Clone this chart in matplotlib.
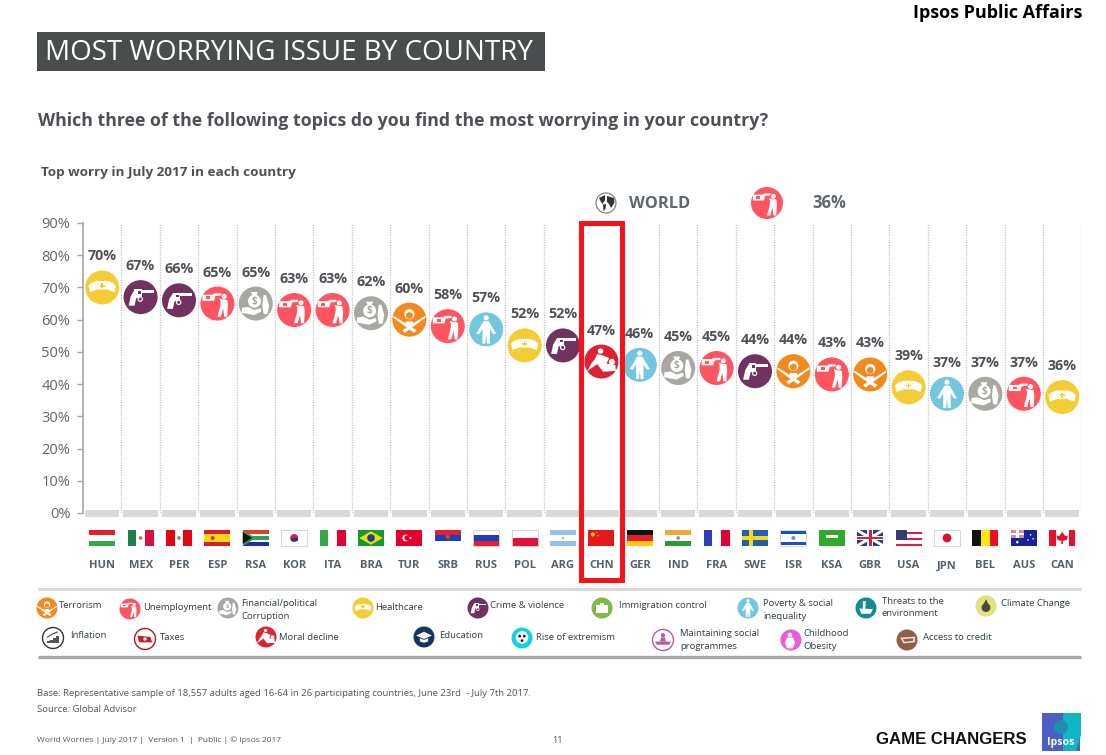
import matplotlib
matplotlib.use("Agg")
import matplotlib.pyplot as plt
from matplotlib.patches import Circle, Polygon, Rectangle
from matplotlib.transforms import Affine2D

plt.rcParams['font.family'] = ['Open Sans', 'DejaVu Sans']

countries = ["HUN", "MEX", "PER", "ESP", "RSA", "KOR", "ITA", "BRA", "TUR", "SRB", "RUS", "POL", "ARG",
             "CHN", "GER", "IND", "FRA", "SWE", "ISR", "KSA", "GBR", "USA", "JPN", "BEL", "AUS", "CAN"]
values = [70, 67, 66, 65, 65, 63, 63, 62, 60, 58, 57, 52, 52, 47, 46, 45, 45, 44, 44, 43, 43, 39, 37, 37, 37, 36]
top_worry = ["health", "crime", "crime", "jobs", "corrupt", "jobs", "jobs", "corrupt", "terror", "jobs", "poverty",
             "health", "crime", "moral", "poverty", "corrupt", "jobs", "crime", "terror", "jobs", "terror",
             "health", "poverty", "corrupt", "jobs", "health"]
y_ticks = [0, 10, 20, 30, 40, 50, 60, 70, 80, 90]
world_value = 36

WORRY_COLORS = {
    "terror": "#F28A1F", "jobs": "#FF5560", "corrupt": "#A7A8A2", "health": "#F4CD34", "crime": "#72325F",
    "immigration": "#7DBB45", "poverty": "#72C6DE", "environment": "#0F8C96", "climate": "#E3E07F",
    "inflation": "white", "taxes": "white", "moral": "#DD2232", "education": "#17335F", "extremism": "#12D3E0",
    "social": "white", "obesity": "#EE5BD6", "credit": "#8E5F48",
}
EDGE_COLORS = {"inflation": "#333333", "taxes": "#B3141F", "social": "#B45AA5"}

# legend: key, icon x, icon y, text x, text lines, first text y
legend_items = [
    ("terror", 47, 608, 59, ["Terrorism"], 605),
    ("jobs", 130, 609, 143, ["Unemployment"], 606),
    ("corrupt", 228, 608, 241, ["Financial/political", "Corruption"], 603),
    ("health", 363, 608, 375, ["Healthcare"], 606),
    ("crime", 478, 608, 490, ["Crime & violence"], 605),
    ("immigration", 602, 608, 619, ["Immigration control"], 605),
    ("poverty", 748, 608, 763, ["Poverty & social", "inequality"], 603),
    ("environment", 866, 608, 882, ["Threats to the", "environment"], 600),
    ("climate", 986, 606, 1001, ["Climate Change"], 602),
    ("inflation", 53, 638, 70, ["Inflation"], 635),
    ("taxes", 145, 639, 160, ["Taxes"], 636),
    ("moral", 266, 637, 279, ["Moral decline"], 637),
    ("education", 424, 637, 439, ["Education"], 635),
    ("extremism", 522, 638, 536, ["Rise of extremism"], 636),
    ("social", 663, 640, 680, ["Maintaining social", "programmes"], 633),
    ("obesity", 791, 640, 803, ["Childhood", "Obesity"], 633),
    ("credit", 907, 640, 923, ["Access to credit"], 637),
]

TEXT_GRAY = "#4D5157"
AXIS_GRAY = "#5F6670"

fig = plt.figure(figsize=(11.06, 7.55), dpi=100, facecolor="white")

# page axes in reference pixels, for everything around the chart
page = fig.add_axes([0, 0, 1, 1], zorder=5)
page.set_xlim(0, 1106)
page.set_ylim(755, 0)
page.axis("off")
page.patch.set_alpha(0)

ax = fig.add_axes([83 / 1106, (755 - 513) / 755, 998.4 / 1106, 290 / 755], zorder=1)
ax.set_xlim(0, 26)
ax.set_ylim(0, 90)


def put_text(x, y, s, **kw):
    # open sans sits high with va=center
    kw.setdefault("va", "center")
    kw.setdefault("ha", "left")
    return page.text(x, y + 2, s, **kw)


def poly(cx, cy, r, pts, color="white", z=6):
    tr = Affine2D().scale(r, -r).translate(cx, cy) + page.transData
    page.add_patch(Polygon(pts, closed=True, facecolor=color, edgecolor="none", transform=tr, zorder=z))


def dot(cx, cy, r, x, y, size, color="white", z=6):
    page.add_patch(Circle((cx + x * r, cy - y * r), size * r, facecolor=color, edgecolor="none", zorder=z))


def draw_icon(key, cx, cy, r):
    col = WORRY_COLORS[key]
    if key == "health":
        poly(cx, cy, r, [(-.8, .1), (-.62, .28), (-.3, .38), (.3, .38), (.62, .28), (.8, .1), (.72, -.28),
                         (.3, -.12), (-.3, -.12), (-.72, -.28)])
        poly(cx, cy, r, [(-.05, .24), (.05, .24), (.05, .15), (.15, .15), (.15, .05), (.05, .05), (.05, -.04),
                         (-.05, -.04), (-.05, .05), (-.15, .05), (-.15, .15), (-.05, .15)], col, 7)
    elif key == "crime":
        poly(cx, cy, r, [(-.1, .42), (.78, .42), (.78, .24), (-.1, .24)])
        poly(cx, cy, r, [(-.38, .46), (.08, .46), (.08, .02), (-.25, .02)])
        poly(cx, cy, r, [(-.36, .42), (-.58, .05), (-.7, -.5), (-.36, -.5), (-.26, -.06), (-.05, -.02)])
        dot(cx, cy, r, -.02, -.12, .16)
        dot(cx, cy, r, -.02, -.12, .09, col, 7)
        poly(cx, cy, r, [(-.16, .34), (.02, .34), (.02, .2), (-.16, .2)], col, 7)
    elif key == "jobs":
        poly(cx, cy, r, [(-.88, .52), (-.3, .52), (-.15, .6), (.22, .6), (.22, .48), (-.12, .44), (-.2, .16),
                         (-.88, .16)])
        dot(cx, cy, r, .4, .42, .15)
        poly(cx, cy, r, [(.12, .3), (.34, .24), (.58, .22), (.62, -.1), (.58, -.78), (.4, -.78), (.34, -.28),
                         (.2, -.78), (0, -.78), (.18, -.1), (.18, .14)])
        poly(cx, cy, r, [(-.66, .42), (-.42, .42), (-.42, .26), (-.66, .26)], col, 7)
    elif key == "corrupt":
        dot(cx, cy, r, -.08, .14, .38)
        poly(cx, cy, r, [(-.3, .68), (.12, .68), (.02, .44), (-.18, .44)])
        poly(cx, cy, r, [(-.82, -.25), (-.45, -.2), (-.1, -.38), (.3, -.28), (.32, -.48), (-.1, -.68), (-.82, -.55)])
        poly(cx, cy, r, [(.46, .5), (.6, .5), (.78, -.1), (.68, -.62), (.46, -.62), (.38, -.1)])
        put_text(cx - .08 * r, cy - .15 * r - 2, "$", color=col, fontsize=r * .42, fontweight="bold",
                 ha="center", zorder=7)
    elif key == "terror":
        dot(cx, cy, r, 0, .32, .3)
        dot(cx, cy, r, 0, .24, .2, col, 7)
        poly(cx, cy, r, [(-.92, .22), (.42, -.62), (.28, -.78), (-.95, .12)])
        poly(cx, cy, r, [(.92, .22), (-.42, -.62), (-.28, -.78), (.95, .12)])
        poly(cx, cy, r, [(-.2, -.1), (.2, -.1), (.24, -.34), (-.24, -.34)])
    elif key == "poverty":
        dot(cx, cy, r, 0, .68, .15)
        poly(cx, cy, r, [(-.15, .48), (.15, .48), (.58, -.24), (.42, -.3), (.22, .02), (.22, -.84), (.05, -.84),
                         (0, -.3), (-.05, -.84), (-.22, -.84), (-.22, .02), (-.42, -.3), (-.58, -.24)])
    elif key == "moral":
        dot(cx, cy, r, -.05, .62, .16)
        dot(cx, cy, r, .62, -.02, .18)
        poly(cx, cy, r, [(-.25, .44), (.15, .34), (.45, .2), (.3, -.12), (.82, -.2), (.85, -.55), (.1, -.6),
                         (-.25, -.15), (-.85, -.58), (-.55, -.05), (-.4, .12)])
    elif key == "immigration":
        poly(cx, cy, r, [(-.6, .32), (.6, .32), (.6, -.5), (-.6, -.5)])
        poly(cx, cy, r, [(-.22, .52), (.22, .52), (.22, .32), (-.22, .32)])
    elif key == "environment":
        poly(cx, cy, r, [(-.65, -.05), (.65, -.1), (.45, -.55), (-.45, -.55)])
        poly(cx, cy, r, [(-.3, .65), (0, .65), (-.08, -.1), (-.3, -.1)])
    elif key == "climate":
        dot(cx, cy, r, 0, -.15, .42, "#4A4A3A")
        poly(cx, cy, r, [(-.22, .18), (0, .65), (.22, .18)], "#4A4A3A")
    elif key == "inflation":
        for i, h in enumerate([.2, .34, .5, .66]):
            x0 = -.55 + i * .29
            poly(cx, cy, r, [(x0, -.5), (x0 + .22, -.5), (x0 + .22, -.5 + h), (x0, -.5 + h)], "#555555")
        poly(cx, cy, r, [(-.6, .1), (-.1, .42), (.42, .64), (.46, .52), (-.08, .3), (-.55, .0)], "#555555")
    elif key == "taxes":
        poly(cx, cy, r, [(-.72, .32), (.5, .2), (.68, -.32), (-.55, -.32)], "#C51F2A")
        dot(cx, cy, r, 0, 0, .16)
    elif key == "education":
        poly(cx, cy, r, [(0, .5), (.75, .14), (0, -.18), (-.75, .14)])
        poly(cx, cy, r, [(-.4, -.1), (0, -.28), (.4, -.1), (.4, -.42), (0, -.55), (-.4, -.42)])
    elif key == "extremism":
        dot(cx, cy, r, 0, .05, .6, "#F4F4F4")
        dot(cx, cy, r, -.22, .18, .13, "#1A1A1A", 7)
        dot(cx, cy, r, .22, .18, .13, "#1A1A1A", 7)
        dot(cx, cy, r, 0, -.25, .13, "#1A1A1A", 7)
    elif key == "social":
        dot(cx, cy, r, 0, .45, .2, "#B45AA5")
        poly(cx, cy, r, [(-.18, .24), (.18, .24), (.28, -.15), (-.28, -.15)], "#B45AA5")
        poly(cx, cy, r, [(-.75, -.15), (.75, -.15), (.58, -.45), (-.58, -.45)], "#B45AA5")
    elif key == "obesity":
        dot(cx, cy, r, -.1, .48, .22)
        poly(cx, cy, r, [(-.42, .22), (.22, .22), (.38, -.3), (.16, -.8), (-.36, -.8), (-.58, -.3)])
    elif key == "credit":
        poly(cx, cy, r, [(-.65, .22), (.75, .32), (.75, -.22), (-.32, -.32)], "#EDE5DF")
        poly(cx, cy, r, [(-.42, .08), (.58, .17), (.58, -.08), (-.2, -.18)], col, 7)


def worry_badge(key, cx, cy, r):
    edge = EDGE_COLORS.get(key, "none")
    page.add_patch(Circle((cx, cy), r, facecolor=WORRY_COLORS[key], edgecolor=edge, linewidth=1, zorder=5))
    draw_icon(key, cx, cy, r)


def flag_stripes(x, y, w, h, colors, vertical=False, weights=None):
    weights = weights or [1] * len(colors)
    pos = 0
    for c, wt in zip(colors, weights):
        part = wt / sum(weights)
        if vertical:
            page.add_patch(Rectangle((x + pos * w, y), part * w, h, fc=c, ec="none", zorder=3))
        else:
            page.add_patch(Rectangle((x, y + pos * h), w, part * h, fc=c, ec="none", zorder=3))
        pos += part


def draw_flag(code, cx):
    w, h = 26, 16
    x, y = cx - w / 2, 530

    def pts(*p):
        return [(x + a * w, y + b * h) for a, b in p]

    def add(*p, c="white"):
        page.add_patch(Polygon(pts(*p), fc=c, ec="none", zorder=4))

    def spot(a, b, s, c):
        page.add_patch(Circle((x + a * w, y + b * h), s, fc=c, ec="none", zorder=4))

    h_flags = {
        "HUN": ["#E4202E", "white", "#36A94A"], "SRB": ["#E4202E", "#1C3FBF", "white"],
        "RUS": ["white", "#1C3FBF", "#E4202E"], "POL": ["white", "#E4123A"],
        "ARG": ["#92C1E9", "white", "#92C1E9"], "GER": ["#111111", "#E4202E", "#FBCB0A"],
        "IND": ["#F4A63A", "white", "#2E9A35"],
    }
    v_flags = {
        "MEX": ["#1E7F4F", "white", "#D8103F"], "PER": ["#E30613", "white", "#E30613"],
        "ITA": ["#33A84A", "white", "#E4002B"], "FRA": ["#2E3FB5", "white", "#E4002B"],
        "BEL": ["#111111", "#FBE70A", "#EE0F24"],
    }
    if code in h_flags:
        flag_stripes(x, y, w, h, h_flags[code])
    elif code in v_flags:
        flag_stripes(x, y, w, h, v_flags[code], vertical=True)
    elif code == "ESP":
        flag_stripes(x, y, w, h, ["#D81E2A", "#F9D616", "#D81E2A"], weights=[1, 2, 1])
        spot(.32, .5, 2, "#C0392B")
    elif code == "RSA":
        flag_stripes(x, y, w, h, ["#E03C31", "white", "#2FA04B", "white", "#1F2FA8"], weights=[3, 1, 3, 1, 3])
        add((0, 0), (.5, .5), (0, 1), c="#2FA04B")
        add((0, .14), (.36, .5), (0, .86), c="#111111")
    elif code == "KOR":
        flag_stripes(x, y, w, h, ["white"])
        spot(.5, .5, 4, "#D31F3C")
        page.add_patch(Rectangle((x + .36 * w, y + .5 * h), .28 * w, 3, fc="#1B3A8A", ec="none", zorder=4))
    elif code == "BRA":
        flag_stripes(x, y, w, h, ["#139A2E"])
        add((.5, .08), (.95, .5), (.5, .92), (.05, .5), c="#F6DA0C")
        spot(.5, .5, 3.8, "#1C3C9C")
    elif code == "TUR":
        flag_stripes(x, y, w, h, ["#E4002B"])
        spot(.36, .5, 3.4, "white")
        spot(.41, .5, 2.7, "#E4002B")
        spot(.54, .5, 1.1, "white")
    elif code == "CHN":
        flag_stripes(x, y, w, h, ["#E5181E"])
        spot(.17, .28, 2, "#F9D616")
        spot(.32, .16, .6, "#F9D616")
        spot(.37, .36, .6, "#F9D616")
    elif code == "SWE":
        flag_stripes(x, y, w, h, ["#2160AE"])
        add((0, .38), (1, .38), (1, .62), (0, .62), c="#F9D616")
        add((.28, 0), (.44, 0), (.44, 1), (.28, 1), c="#F9D616")
    elif code == "ISR":
        flag_stripes(x, y, w, h, ["white", "#1D4FC4", "white", "#1D4FC4", "white"], weights=[1, 2, 5, 2, 1])
        spot(.5, .5, 2, "#6C8FDC")
    elif code == "KSA":
        flag_stripes(x, y, w, h, ["#2FAA2F"])
        add((.28, .3), (.72, .3), (.72, .5), (.28, .5))
        add((.3, .66), (.7, .66), (.7, .7), (.3, .7))
    elif code == "GBR":
        flag_stripes(x, y, w, h, ["#233F8C"])
        add((0, 0), (.1, 0), (1, .88), (1, 1), (.9, 1), (0, .12))
        add((1, 0), (.9, 0), (0, .88), (0, 1), (.1, 1), (1, .12))
        add((.38, 0), (.62, 0), (.62, 1), (.38, 1))
        add((0, .35), (1, .35), (1, .65), (0, .65))
        add((.44, 0), (.56, 0), (.56, 1), (.44, 1), c="#D6203C")
        add((0, .42), (1, .42), (1, .58), (0, .58), c="#D6203C")
    elif code == "USA":
        flag_stripes(x, y, w, h, ["white", "#D6203C", "white", "white", "#D6203C", "white", "white", "#D6203C"])
        add((0, 0), (.42, 0), (.42, .6), (0, .6), c="#2F3F78")
    elif code == "JPN":
        flag_stripes(x, y, w, h, ["white"])
        spot(.5, .5, 4.4, "#D3142B")
    elif code == "AUS":
        flag_stripes(x, y, w, h, ["#14249B"])
        add((0, 0), (.5, 0), (.5, .5), (0, .5), c="#D98A9C")
        add((.2, 0), (.3, 0), (.3, .5), (.2, .5))
        add((0, .2), (.5, .2), (.5, .3), (0, .3))
        spot(.25, .76, 1.3, "white")
        spot(.76, .3, .8, "white")
        spot(.66, .62, .8, "white")
        spot(.86, .55, .8, "white")
    elif code == "CAN":
        flag_stripes(x, y, w, h, ["#E8112D", "white", "#E8112D"], vertical=True, weights=[1, 2, 1])
        add((.5, .12), (.62, .38), (.72, .34), (.68, .62), (.53, .68), (.53, .88), (.47, .88), (.47, .68),
            (.32, .62), (.28, .34), (.38, .38), c="#E8112D")
    if code == "MEX":
        spot(.5, .5, 1.8, "#A07A30")
    if code == "PER":
        spot(.5, .5, 2, "#8AA070")
    if code == "ARG":
        spot(.5, .5, 1.2, "#E9B63C")
    if code == "SRB":
        spot(.5, .42, 2.2, "#C8433E")
    if code == "IND":
        spot(.5, .5, 1.8, "#8C8CC8")
    if code in ("KOR", "RUS", "POL", "JPN", "ISR"):
        page.add_patch(Rectangle((x, y), w, h, fc="none", ec="#D5D5D5", lw=.7, zorder=4))


# chart
x_pos = [i + 0.5 for i in range(len(countries))]
ax.bar(x_pos, [2.2] * len(x_pos), bottom=-1.2, width=0.9, color="#D9D9D9", clip_on=False, zorder=1)
for i in range(1, 27):
    ax.axvline(i, color="#C4C4C4", linewidth=0.9, linestyle=(0, (1, 1)), zorder=0)
ax.set_yticks(y_ticks)
ax.set_yticklabels([f"{t}%" for t in y_ticks], fontsize=10.5, color=AXIS_GRAY)
ax.set_xticks([])
ax.tick_params(axis="y", length=4, width=1, color="#A6A6A6", pad=5)
for side in ("top", "right", "bottom"):
    ax.spines[side].set_visible(False)
ax.spines["left"].set_color("#A6A6A6")
ax.spines["left"].set_linewidth(1.2)
ax.patch.set_alpha(0)

to_page = ax.transData + page.transData.inverted()
for xp, val, key, code in zip(x_pos, values, top_worry, countries):
    cx, cy = to_page.transform((xp, val))
    worry_badge(key, cx, cy, 17)
    put_text(cx, cy - 33, f"{val}%", ha="center", fontsize=10.3, fontweight="bold", color=TEXT_GRAY, zorder=8)
    draw_flag(code, cx)
    put_text(cx, 564, code, ha="center", fontsize=8, fontweight="bold", color="#54606C")

# highlighted country
hl_x = to_page.transform((x_pos[countries.index("CHN")], 0))[0]
page.add_patch(Rectangle((hl_x - 20, 222.5), 40.5, 357, fc="none", ec="#FA1218", lw=3.6, zorder=9))

# header block
page.add_patch(Rectangle((37, 32), 508, 39, fc="#4A4D4E", ec="none"))
put_text(45, 51, "MOST WORRYING ISSUE BY COUNTRY", color="white", fontsize=20)
put_text(1082, 11, "Ipsos Public Affairs", color="black", fontsize=13, fontweight="bold", ha="right")
put_text(38, 118.5, "Which three of the following topics do you find the most worrying in your country?",
         color=TEXT_GRAY, fontsize=12.8, fontweight="bold")
put_text(41, 170.5, "Top worry in July 2017 in each country", color=TEXT_GRAY, fontsize=9.7, fontweight="bold")

# world row
page.add_patch(Circle((606, 203), 10, fc="white", ec="#777777", lw=.8, zorder=5))
poly(606, 203, 10, [(-.7, .5), (-.1, .8), (-.1, .3), (-.35, -.1), (-.5, .1)], "#333333")
poly(606, 203, 10, [(-.3, -.15), (0, -.1), (-.05, -.6), (-.25, -.8)], "#333333")
poly(606, 203, 10, [(.1, .7), (.8, .5), (.85, .05), (.5, -.5), (.3, -.1), (.1, .1)], "#333333")
put_text(629, 201.5, "WORLD", color=AXIS_GRAY, fontsize=11.8, fontweight="bold")
worry_badge("jobs", 767, 203, 16)
put_text(829, 201.5, f"{world_value}%", color=AXIS_GRAY, fontsize=12, fontweight="bold", ha="center")

# legend block
page.plot([38, 1081], [589, 589], color="#D9D9D9", lw=2.2, solid_capstyle="butt")
page.plot([38, 1081], [657, 657], color="#A6A6A6", lw=2.4, solid_capstyle="butt")
for key, ix, iy, tx, lines, ty in legend_items:
    worry_badge(key, ix, iy, 10.5)
    for n, line in enumerate(lines):
        put_text(tx, ty - 1 + n * 12.5, line, fontsize=6.8, color="#2F3E46", zorder=8)

# footer
put_text(37, 691.5, "Base: Representative sample of 18,557 adults aged 16-64 in 26 participating countries, "
         "June 23rd  - July 7th 2017.", fontsize=6.8, color="#555555")
put_text(37, 707.5, "Source: Global Advisor", fontsize=6.8, color="#555555")
put_text(37, 738.5, "World Worries | July 2017 |  Version 1  |  Public | \u00a9 Ipsos 2017", fontsize=6,
         color="#555555")
put_text(557, 738.5, "11", fontsize=6.6, color="#555555", ha="center")
page.text(876, 739, "GAME CHANGERS", fontsize=12.1, fontweight="bold", family="Liberation Sans", color="#111111",
          va="center", ha="left")
page.add_patch(Rectangle((1042, 713), 38, 38, fc="#4C5FC4", ec="none"))
page.add_patch(Polygon([(1063, 713), (1081, 713), (1081, 735), (1076, 751), (1063, 751)], fc="#12B5C4", ec="none",
                       zorder=2))
page.add_patch(Circle((1061, 727), 7, fc="#1E8FB0", ec="none", zorder=3))
page.text(1061, 742, "Ipsos", fontsize=7.6, fontweight="bold", color="white", va="center", ha="center", zorder=4)

fig.savefig("out.png", dpi=100)
